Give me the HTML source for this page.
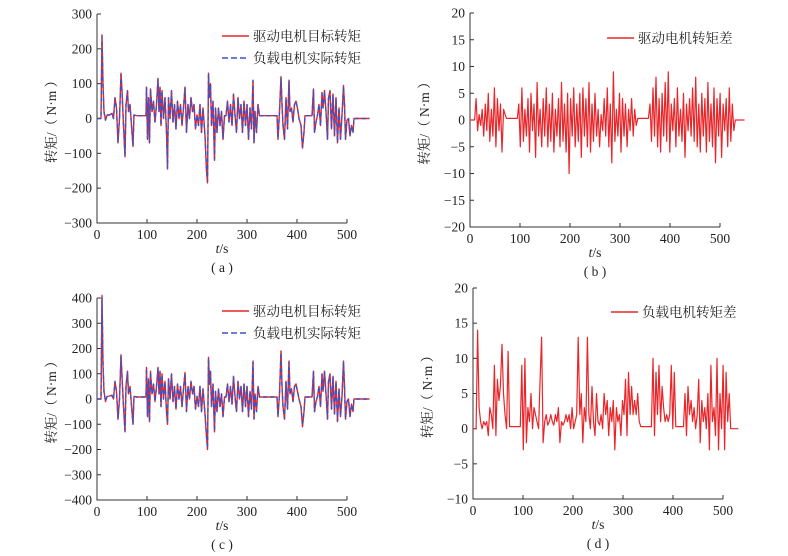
<!DOCTYPE html>
<html><head><meta charset="utf-8">
<style>
html,body{margin:0;padding:0;background:#fff;}
svg{display:block;font-family:"Liberation Serif","Noto Serif CJK SC",serif;}
.tick{font-size:13.5px;fill:#222;}
.lab{font-size:13.5px;fill:#222;font-family:"Liberation Serif","Noto Serif CJK SC",serif;}
</style></head>
<body>
<svg id="chart" width="788" height="556" viewBox="0 0 788 556" xmlns="http://www.w3.org/2000/svg"></svg>
<script>
// ---- data ----
const timesAC = [0,8,10,12,14,17,20,25,30,33,36,39,42,45,48,50,53,56,58,61,63,66,68,72,74,80,98,99,101,103,105,107,110,113,116,119,122,124,126,128,130,133,136,139,141,143,146,149,152,155,158,161,164,167,170,173,176,179,182,185,188,191,194,197,200,203,206,209,212,216,219,221,223,225,227,229,232,235,237,240,243,246,249,252,255,258,261,264,267,270,273,276,279,282,285,288,291,294,297,300,303,306,309,312,314,316,319,322,325,360,362,365,368,370,372,375,378,381,384,386,389,392,395,398,401,404,408,411,414,416,430,433,435,438,441,444,447,450,452,455,458,461,463,466,469,472,475,478,481,484,487,490,493,495,497,500,503,506,509,512,514,545];
const targetA = [0,0,240,100,20,-5,10,10,15,0,60,30,-70,0,130,80,-20,-110,40,80,20,40,0,-80,10,8,8,90,-60,60,-70,85,20,50,-10,40,115,20,90,-20,80,0,60,-40,-145,60,0,80,-10,40,-30,50,0,40,-20,30,90,-40,40,0,60,20,40,-30,10,-20,40,-40,30,-50,-150,-185,130,60,100,-20,50,-120,30,-40,30,-20,20,-60,8,8,50,-10,40,-20,70,10,-40,60,0,40,-40,50,-20,40,-60,30,-30,110,-70,20,-40,40,8,8,-60,20,120,40,-20,-60,60,-30,110,20,30,-10,40,50,30,0,-20,-85,-40,8,8,85,-40,-10,10,40,-20,75,30,80,20,-60,60,80,-30,70,-50,60,-70,30,-60,10,95,40,-60,-5,0,-50,-20,-40,0,0];
const actualA = [0,0,235,95,18,-4,10,10,14,0,58,30,-68,0,126,78,-20,-108,40,78,20,40,0,-78,10,8,8,88,-58,58,-68,83,20,48,-10,40,112,20,88,-20,78,0,58,-40,-142,58,0,78,-10,40,-30,48,0,40,-20,30,88,-40,40,0,58,20,40,-30,10,-20,40,-40,30,-48,-146,-180,126,58,98,-20,48,-116,30,-40,30,-20,20,-58,8,8,48,-10,40,-20,68,10,-40,58,0,40,-40,48,-20,40,-58,30,-30,108,-68,20,-40,40,8,8,-58,20,116,40,-20,-58,58,-30,106,20,30,-10,40,48,30,0,-20,-82,-40,8,8,82,-40,-10,10,40,-20,72,30,78,20,-58,58,78,-30,68,-48,58,-68,30,-58,10,92,40,-58,-5,0,-48,-20,-40,0,0];
const targetC = [0,0,410,140,30,-10,10,12,15,0,70,30,-80,0,175,90,-30,-130,50,110,20,50,0,-100,10,8,8,125,-70,80,-90,110,20,60,-10,50,125,20,110,-30,100,0,70,-50,-100,80,0,100,-10,50,-40,60,0,50,-30,40,105,-50,50,0,70,20,50,-40,10,-30,50,-50,40,-60,-150,-200,165,60,110,-30,60,-130,30,-50,40,-30,20,-70,8,8,60,-10,50,-20,90,10,-50,70,0,50,-50,60,-30,50,-70,30,-40,150,-80,20,-50,50,8,8,-70,20,190,50,-30,-80,70,-40,150,20,40,-10,50,60,30,0,-30,-110,-50,8,8,110,-50,-10,10,50,-30,100,30,110,20,-80,70,100,-40,90,-60,70,-90,40,-70,10,150,50,-80,-10,0,-70,-20,-50,0,0];
const actualC = [0,0,400,135,28,-9,10,12,14,0,68,30,-78,0,170,88,-30,-126,50,106,20,50,0,-98,10,8,8,121,-68,78,-88,106,20,58,-10,50,121,20,106,-30,97,0,68,-50,-98,78,0,97,-10,50,-40,58,0,50,-30,40,102,-50,50,0,68,20,50,-40,10,-30,50,-50,40,-58,-146,-195,160,58,107,-30,58,-126,30,-50,40,-30,20,-68,8,8,58,-10,50,-20,87,10,-50,68,0,50,-50,58,-30,50,-68,30,-40,146,-78,20,-50,50,8,8,-68,20,184,50,-30,-78,68,-40,146,20,40,-10,50,58,30,0,-30,-106,-50,8,8,106,-50,-10,10,50,-30,97,30,106,20,-78,68,97,-40,87,-58,68,-87,40,-68,10,146,50,-78,-10,0,-68,-20,-50,0,0];
const diffB = [0,0,0,0,4,-2,1,-1,2,-3,3,-2,5,-4,2,-3,6,-5,4,-2,3,-6,2,1,0.3,0.3,0.3,0.3,0.3,0.3,0.3,0.3,3,-5,6,-4,2,-3,4,-6,5,-2,3,-7,7,-3,2,-5,4,-3,6,-5,3,-4,5,-6,2,-3,4,-5,7,-4,3,-6,5,-10,4,-3,6,-5,3,-4,5,-7,6,-3,4,-5,7,-6,3,-4,5,-3,2,-5,1,-2,4,-3,6,-5,3,-8,9,-4,2,-3,5,-6,4,-3,3,-5,2,-2,4,-3,2,-1,0.3,0.3,0.3,0.3,0.3,0.3,0.3,0.3,3,-4,6,-3,8,-5,4,-6,5,-3,7,-4,9,-6,3,-2,4,-5,6,-3,2,-4,5,-7,3,-2,4,-3,6,-4,8,-5,3,-6,5,-3,4,-6,7,-4,3,-5,6,-8,4,-3,5,-7,3,-2,4,-5,6,-4,3,-2,0,0,0,0,0,0,0];
const diffD = [0,0,0,14,3,1,0,1,0.5,1,-1,3,2,0,9,-1,7,4,6,12,5,2,0,11,0.3,0.3,0.3,0.3,0.3,0.3,0.3,0.3,9,-3,10,-2,3,1,5,0,3,2,1,0,7,13,-2,1,2,0.5,1,2,1,0.5,2,1,3,-2,1,0.5,1,2,1,2,0,3,0,1,2,13,2,5,-2,3,1,13,2,0,6,1,-1,5,1,0.5,2,0,5,2,4,-1,3,1,4,-3,3,1,2,-1,4,2,7,-1,8,2,6,2,4,2,5,1,0.3,0.3,0.3,0.3,0.3,0.3,0.3,0.3,10,-1,8,2,9,1,6,3,1,2,1,2,9,0,8,0.3,0.3,0.3,0.3,0.3,0.3,5,-1,6,2,4,1,3,0,2,7,-2,4,1,3,0,5,-3,9,1,3,-1,10,-3,5,0,9,-3,8,1,5,0,0,0,0,0,0];
const diffStep = 3.05;
const xTicks = [0,100,200,300,400,500];
const yTicksA = [-300,-200,-100,0,100,200,300];
const yTicksB = [-20,-15,-10,-5,0,5,10,15,20];
const yTicksC = [-400,-300,-200,-100,0,100,200,300,400];
const yTicksD = [-10,-5,0,5,10,15,20];
const legendA = ["驱动电机目标转矩","负载电机实际转矩"];
const legendB = ["驱动电机转矩差"];
const legendD = ["负载电机转矩差"];
const captions = ["( a )","( b )","( c )","( d )"];

const NS = "http://www.w3.org/2000/svg";
const svg = document.getElementById("chart");
function mk(tag, attrs, parent){ const e=document.createElementNS(NS,tag); for(const k in attrs) e.setAttribute(k,attrs[k]); (parent||svg).appendChild(e); return e; }

function panel(p){
  const g = mk("g",{});
  
  
  const xs = v => p.x0 + (v - 0) / 500 * (p.x500 - p.x0);
  const ys = v => p.yb + (v - p.ymin) / (p.ymax - p.ymin) * (p.yt - p.yb);
  const ax = mk("path",{d:`M${p.x0},${p.yt} V${p.yb} H${p.x500}`,stroke:"#333","stroke-width":1,fill:"none"},g);
  
  
  for(const t of p.yTicks){
    const y=ys(t);
    mk("line",{x1:p.x0,x2:p.x0+4,y1:y,y2:y,stroke:"#333"},g);
    const tx=mk("text",{x:p.x0-5,y:y+4.5,"text-anchor":"end",class:"tick"},g);
    tx.textContent = t<0 ? "−"+Math.abs(t) : String(t);
    
    
  }
  for(const t of xTicks){
    const x=xs(t);
    mk("line",{x1:x,x2:x,y1:p.yb,y2:p.yb-4,stroke:"#333"},g);
    const tx=mk("text",{x:x,y:p.yb+16,"text-anchor":"middle",class:"tick"},g);
    tx.textContent=String(t);
    
    
  }
  const xt=mk("text",{x:(p.x0+p.x500)/2,y:p.yb+30,"text-anchor":"middle",class:"lab"},g);
  xt.innerHTML='<tspan font-style="italic">t</tspan>/s';
  
  
  const yt=mk("text",{x:0,y:0,"text-anchor":"middle",class:"lab",transform:`translate(${p.x0-41},${(p.yt+p.yb)/2}) rotate(-90)`},g);
  yt.textContent="转矩/（ N·m ）";
  
  
  const cp=mk("text",{x:(p.x0+p.x500)/2,y:p.yb+49,"text-anchor":"middle",class:"lab"},g);
  cp.textContent=p.caption;
  
  
  p.series.forEach((s,i)=>{
    let d="";
    s.vals.forEach((v,j)=>{ const t = s.times ? s.times[j] : j*diffStep; d += (j?"L":"M")+xs(t).toFixed(1)+","+ys(v).toFixed(1); });
    const pl=mk("path",{d:d,fill:"none",stroke:s.color,"stroke-width":s.w,"stroke-dasharray":s.dash||"none","stroke-linejoin":"round"},g);
    
    
    const ly = p.legY + i*22;
    const ll=mk("line",{x1:p.legX,x2:p.legX+27,y1:ly,y2:ly,stroke:s.color,"stroke-width":1.6,"stroke-dasharray":s.dash?"6,3":"none"},g);
    
    
    const lt=mk("text",{x:p.legX+31,y:ly+5,class:"lab"},g);
    lt.textContent=s.label;
    
    
  });
}
const RED="#e8262a", BLUE="#3d52c4";
panel({name:"panel-a",x0:97,x500:347,yt:14,yb:223,ymin:-300,ymax:300,yTicks:yTicksA,caption:captions[0],legX:222,legY:36,
  series:[{name:"target-torque-line",times:timesAC,vals:targetA,color:RED,w:1.4,label:legendA[0]},
          {name:"actual-torque-line",times:timesAC,vals:actualA,color:BLUE,w:1.4,dash:"4,3",label:legendA[1]}]});
panel({name:"panel-b",x0:470,x500:720,yt:13,yb:227,ymin:-20,ymax:20,yTicks:yTicksB,caption:captions[1],legX:607,legY:38,
  series:[{name:"drive-diff-line",vals:diffB,color:RED,w:1.2,label:legendB[0]}]});
panel({name:"panel-c",x0:97,x500:347,yt:298,yb:500,ymin:-400,ymax:400,yTicks:yTicksC,caption:captions[2],legX:222,legY:311,
  series:[{name:"target-torque-line",times:timesAC,vals:targetC,color:RED,w:1.4,label:legendA[0]},
          {name:"actual-torque-line",times:timesAC,vals:actualC,color:BLUE,w:1.4,dash:"4,3",label:legendA[1]}]});
panel({name:"panel-d",x0:473,x500:723,yt:288,yb:499,ymin:-10,ymax:20,yTicks:yTicksD,caption:captions[3],legX:611,legY:312,
  series:[{name:"load-diff-line",vals:diffD,color:RED,w:1.2,label:legendD[0]}]});
</script>
</body></html>
